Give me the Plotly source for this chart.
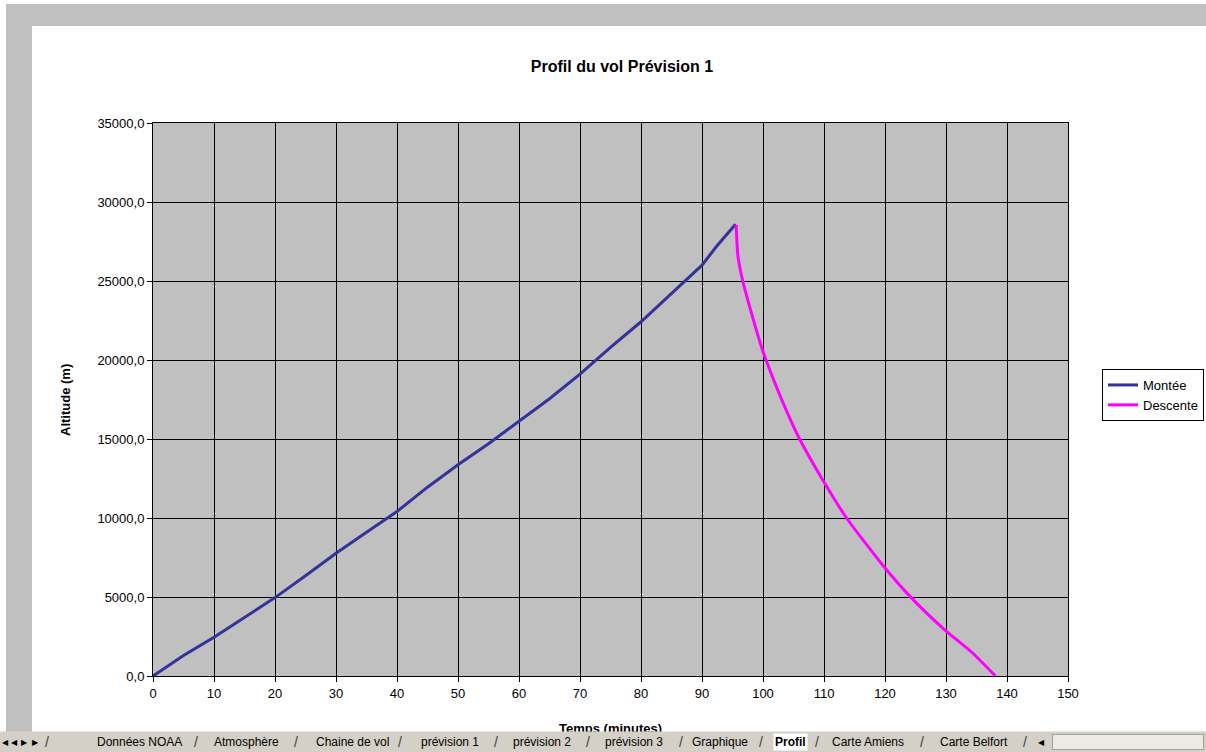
import plotly.graph_objects as go

# ---- data ----
montee_t = [0, 5, 10, 15, 20, 25, 30, 35, 40, 45, 50, 55, 60, 65, 70, 75, 80, 85, 90, 92.4, 95.5]
montee_alt = [0, 1300, 2450, 3700, 4960, 6350, 7770, 9100, 10410, 11950, 13370, 14700, 16100,
              17550, 19110, 20800, 22420, 24200, 26000, 27200, 28590]

descente_t = [95.6, 95.9, 96.7, 97.8, 98.9, 99.9, 101.1, 103.5, 106, 109.8, 113.7, 119.6, 124.3,
              129.5, 134.4, 138.1]
descente_alt = [28550, 26560, 24970, 23390, 21910, 20650, 19380, 17100, 15000, 12400, 10000,
                7030, 4960, 3020, 1440, 0]

x_ticks = list(range(0, 151, 10))
y_ticks = list(range(0, 35001, 5000))

sheet_tabs = ["Données NOAA", "Atmosphère", "Chaine de vol", "prévision 1", "prévision 2",
              "prévision 3", "Graphique", "Profil", "Carte Amiens", "Carte Belfort"]
active_tab = "Profil"

# ---- geometry helpers (pixel -> paper) ----
W, H = 1206, 752
L, R, T, B = 153, 1068, 123, 676


def px(x):
    return (x - L) / (R - L)


def py(y):
    return (B - y) / (B - T)


FONT = "Liberation Sans, Arial, sans-serif"

fig = go.Figure()
fig.add_trace(go.Scatter(x=montee_t, y=montee_alt, mode="lines", name="Montée",
                         line=dict(color="#333399", width=3)))
fig.add_trace(go.Scatter(x=descente_t, y=descente_alt, mode="lines", name="Descente",
                         line=dict(color="#FF00FF", width=3, shape="spline", smoothing=0.6)))

shapes = [
    # grey window frame (top and left)
    dict(type="rect", xref="paper", yref="paper", x0=px(6), x1=px(1206), y0=py(26), y1=py(4),
         fillcolor="#C0C0C0", line=dict(width=0), layer="below"),
    dict(type="rect", xref="paper", yref="paper", x0=px(6), x1=px(32), y0=py(733), y1=py(4),
         fillcolor="#C0C0C0", line=dict(width=0), layer="below"),
]

annotations = [
    dict(text="<b>Altitude (m)</b>", xref="paper", yref="paper", x=px(65), y=py(400),
         textangle=-90, showarrow=False, font=dict(family=FONT, size=13, color="black"),
         xanchor="center", yanchor="middle"),
    dict(text="<b>Temps (minutes)</b>", xref="paper", yref="paper", x=px(610), y=py(719),
         showarrow=False, font=dict(family=FONT, size=13, color="black"),
         xanchor="center", yanchor="top"),
    # sheet tab bar (covers the bottom of the x title, as in the screenshot)
    dict(text=" ", xref="paper", yref="paper", x=px(603), y=py(742), width=1210, height=20,
         bgcolor="#D4D0C8", borderpad=0, showarrow=False, xanchor="center", yanchor="middle"),
    dict(text=" ", xref="paper", yref="paper", x=px(1128), y=py(742), width=150, height=14,
         bgcolor="#ECEAE4", bordercolor="#A0A0A0", borderwidth=1, borderpad=0, showarrow=False,
         xanchor="center", yanchor="middle"),
]

# navigation arrows
for xx, s in [(5, "◀"), (14, "◀"), (24, "▶"), (35, "▶")]:
    annotations.append(dict(text=s, xref="paper", yref="paper", x=px(xx), y=py(742),
                            showarrow=False, font=dict(family="DejaVu Sans", size=8, color="black"),
                            xanchor="center", yanchor="middle"))
annotations.append(dict(text="◀", xref="paper", yref="paper", x=px(1041), y=py(742),
                        showarrow=False, font=dict(family="DejaVu Sans", size=8, color="black"),
                        xanchor="center", yanchor="middle"))

tab_centers = [139, 246, 352, 450, 542, 634, 720, 790, 868, 974]
tab_seps = [47, 196, 296, 400, 496, 588, 681, 761, 817, 922, 1025]
for c, name in zip(tab_centers, sheet_tabs):
    bold = name == active_tab
    annotations.append(dict(text=f"<b>{name}</b>" if bold else name, xref="paper", yref="paper",
                            x=px(c), y=py(742), showarrow=False,
                            bgcolor="white" if bold else "rgba(0,0,0,0)",
                            font=dict(family=FONT, size=12, color="black"),
                            xanchor="center", yanchor="middle"))
for s in tab_seps:
    annotations.append(dict(text="/", xref="paper", yref="paper", x=px(s), y=py(742),
                            showarrow=False, font=dict(family=FONT, size=14, color="#404040"),
                            xanchor="center", yanchor="middle"))

fig.update_layout(
    width=W, height=H,
    margin=dict(l=L, r=W - R, t=T, b=H - B, autoexpand=False),
    paper_bgcolor="white",
    plot_bgcolor="#C0C0C0",
    separators=", ",
    font=dict(family=FONT, size=12, color="black"),
    title=dict(text="<b>Profil du vol Prévision 1</b>", x=622 / W, xref="container",
               xanchor="center", y=1 - 66 / H, yref="container", yanchor="middle",
               font=dict(family=FONT, size=16, color="black")),
    xaxis=dict(range=[0, 150], tickvals=x_ticks, ticks="outside", ticklen=5, tickcolor="black",
               showgrid=True, gridcolor="black", gridwidth=1, showline=True, linecolor="black",
               linewidth=1, mirror=True, zeroline=False, automargin=False,
               tickfont=dict(family=FONT, size=13, color="black")),
    yaxis=dict(range=[0, 35000], tickvals=y_ticks, tickformat=".1f", ticks="outside", ticklen=5,
               tickcolor="black", showgrid=True, gridcolor="black", gridwidth=1, showline=True,
               linecolor="black", linewidth=1, mirror=True, zeroline=False, automargin=False,
               tickfont=dict(family=FONT, size=13, color="black")),
    legend=dict(x=px(1204), xanchor="right", y=py(369), yanchor="top", bgcolor="white",
                bordercolor="black", borderwidth=1, font=dict(family=FONT, size=13, color="black"),
                itemwidth=30, tracegroupgap=0),
    shapes=shapes,
    annotations=annotations,
    showlegend=True,
)

fig.write_html(
    "out.html",
    config={"displayModeBar": False},
    post_script="document.body.style.margin='0';document.body.style.overflow='hidden';",
)
